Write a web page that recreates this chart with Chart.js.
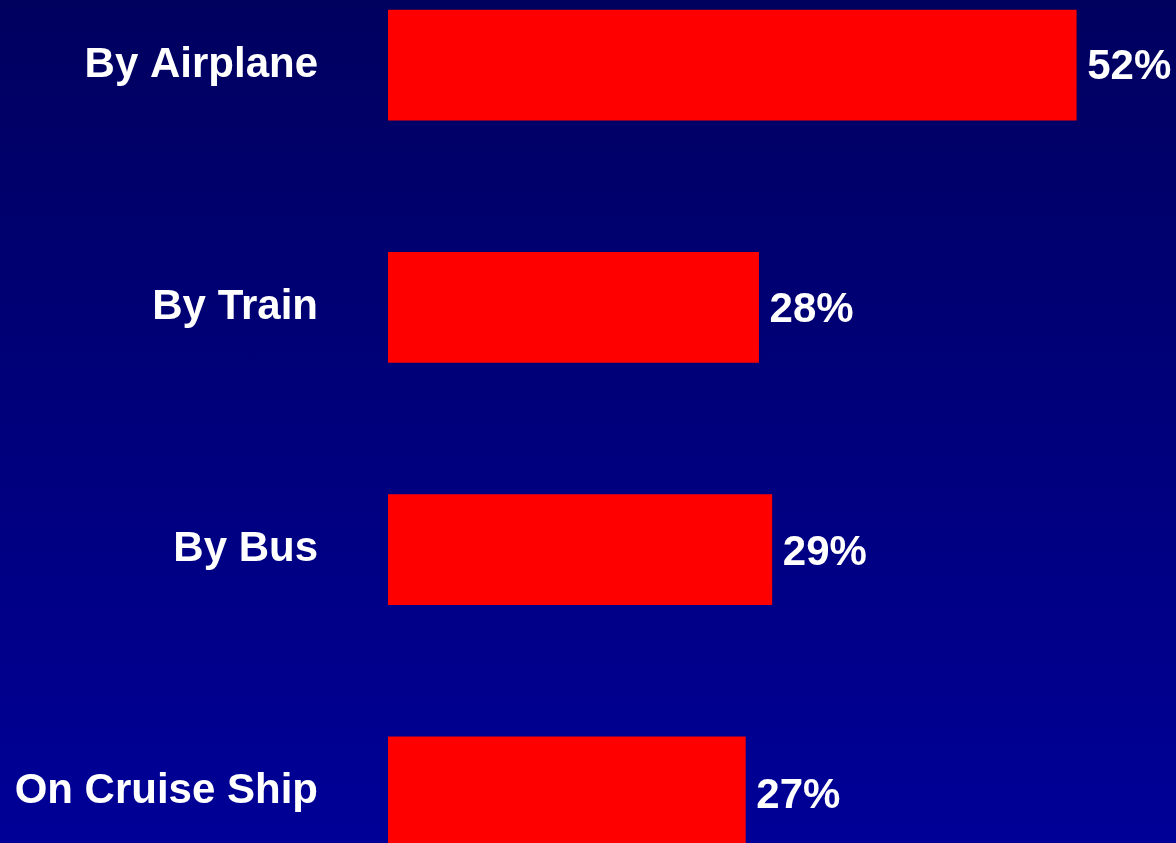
<!DOCTYPE html>
<html>
<head>
<meta charset="utf-8">
<script src="https://cdn.jsdelivr.net/npm/chart.js@4/dist/chart.umd.min.js"></script>
<style>
  html, body {
    margin: 0;
    width: 1176px;
    height: 843px;
    overflow: hidden;
    background: linear-gradient(#00005f, #000097);
  }
  #barChart {
    position: absolute;
    left: 0;
    top: -56px;
  }
</style>
</head>
<body>
<canvas id="barChart" width="1176" height="969"></canvas>
<script>
/* Chart data */
const categories = ["By Airplane", "By Train", "By Bus", "On Cruise Ship"];
const shares = [52, 28, 29, 27];
const valueLabels = ["52%", "28%", "29%", "27%"];

const labelFont = { family: "'Liberation Sans', Arial, sans-serif", size: 42, weight: "bold" };

// Write the percentage just past the end of each bar
const valueLabelPlugin = {
  id: "valueLabels",
  afterDatasetsDraw(chart) {
    const c = chart.ctx;
    const meta = chart.getDatasetMeta(0);
    c.save();
    c.fillStyle = "#ffffff";
    c.font = "bold 42px 'Liberation Sans', Arial, sans-serif";
    c.textAlign = "left";
    c.textBaseline = "middle";
    meta.data.forEach((bar, i) => {
      c.fillText(valueLabels[i], bar.x + 11, bar.y + 2 + i);
    });
    c.restore();
  },
};

const ctx = document.getElementById("barChart").getContext("2d");

new Chart(ctx, {
  type: "bar",
  data: {
    labels: categories,
    datasets: [
      {
        data: shares,
        backgroundColor: "#ff0000",
        borderWidth: 0,
        barThickness: 110,
      },
    ],
  },
  options: {
    indexAxis: "y",
    responsive: false,
    animation: false,
    layout: { padding: { left: 0, right: 19, top: 0, bottom: 0 } },
    plugins: {
      legend: { display: false },
      tooltip: { enabled: false },
    },
    scales: {
      x: {
        display: false,
        min: 0,
        max: 58.1,
      },
      y: {
        afterFit(scale) {
          // fixed label column, no extra room above/below the bars
          scale.width = 388;
          scale.paddingTop = 0;
          scale.paddingBottom = 0;
        },
        grid: { display: false, drawTicks: false },
        border: { display: false },
        ticks: {
          color: "#ffffff",
          font: labelFont,
          padding: 70,
        },
      },
    },
  },
  plugins: [valueLabelPlugin],
});
</script>
</body>
</html>
